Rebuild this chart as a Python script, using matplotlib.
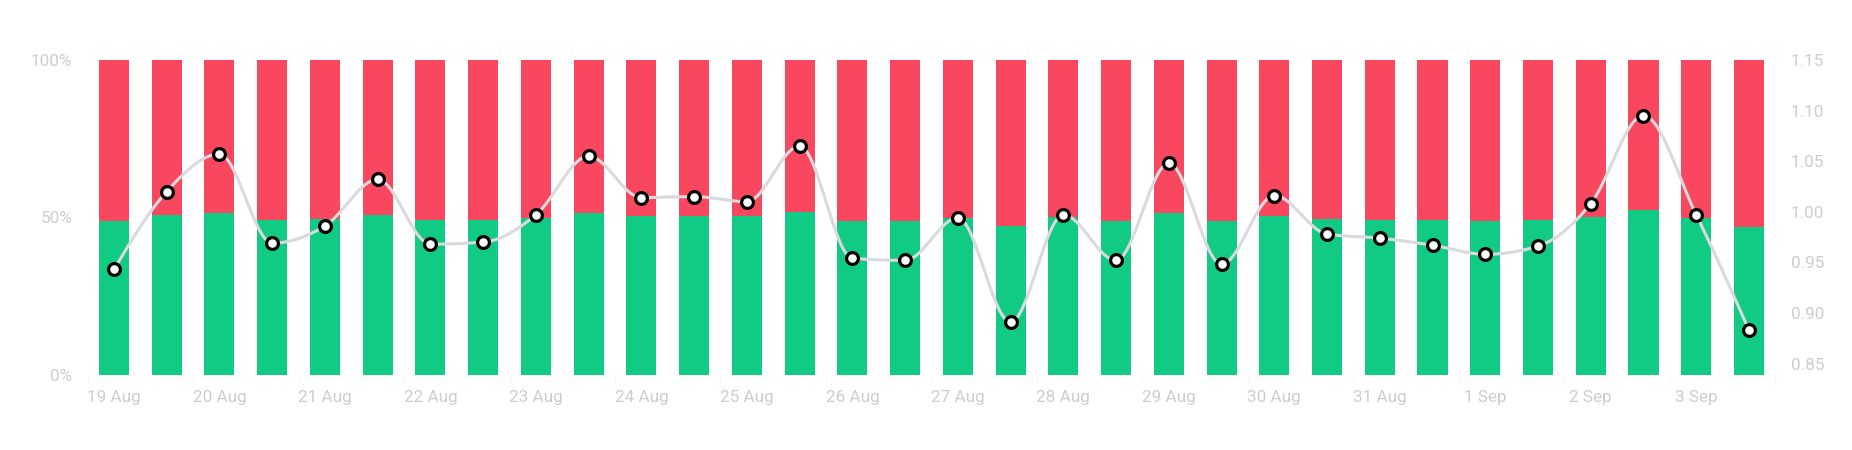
import matplotlib
matplotlib.use("Agg")
import matplotlib.pyplot as plt
from matplotlib.ticker import FixedLocator
import numpy as np

# two bars per day, 19 Aug .. 3 Sep
day_labels = ["19 Aug", "20 Aug", "21 Aug", "22 Aug", "23 Aug", "24 Aug", "25 Aug",
              "26 Aug", "27 Aug", "28 Aug", "29 Aug", "30 Aug", "31 Aug", "1 Sep",
              "2 Sep", "3 Sep"]

# long share (green, bottom) in percent, short share is the rest
long_pct = [48.7, 50.6, 51.4, 49.3, 49.6, 50.8, 49.2, 49.3, 49.9, 51.3,
            50.4, 50.4, 50.3, 51.6, 48.9, 48.8, 49.7, 47.1, 50.0, 48.8,
            51.3, 48.8, 50.5, 49.4, 49.3, 49.2, 48.9, 49.1, 50.2, 52.3,
            49.9, 46.8]

# long/short ratio on the right axis
ratio = [0.943, 1.020, 1.057, 0.969, 0.986, 1.032, 0.968, 0.970, 0.997, 1.055,
         1.014, 1.015, 1.010, 1.065, 0.954, 0.952, 0.994, 0.891, 0.997, 0.952,
         1.048, 0.948, 1.016, 0.978, 0.974, 0.967, 0.958, 0.966, 1.008, 1.095,
         0.997, 0.883]

green = '#11ca83'
red = '#f8475e'
txt = '#cdcdcd'


def monotone_x(y, n=20):
    # d3-style monotone cubic through the points, x = 0..len-1
    y = np.asarray(y, dtype=float)
    m = len(y)
    s = np.diff(y)
    t = np.zeros(m)
    for i in range(1, m - 1):
        s0, s1 = s[i - 1], s[i]
        p = (s0 + s1) / 2
        t[i] = (np.sign(s0) + np.sign(s1)) * min(abs(s0), abs(s1), 0.5 * abs(p))
    t[0] = (3 * s[0] - t[1]) / 2
    t[-1] = (3 * s[-1] - t[-2]) / 2
    xs, ys = [], []
    for i in range(m - 1):
        u = np.linspace(0, 1, n, endpoint=False)
        h00 = 2 * u**3 - 3 * u**2 + 1
        h10 = u**3 - 2 * u**2 + u
        h01 = -2 * u**3 + 3 * u**2
        h11 = u**3 - u**2
        xs.append(i + u)
        ys.append(h00 * y[i] + h10 * t[i] + h01 * y[i + 1] + h11 * t[i + 1])
    xs.append([m - 1])
    ys.append([y[-1]])
    return np.concatenate(xs), np.concatenate(ys)


plt.rcParams['font.family'] = ['Roboto', 'DejaVu Sans']

x = np.arange(len(long_pct))
long_arr = np.array(long_pct)
short_arr = 100 - long_arr

fig = plt.figure(figsize=(18.52, 4.5), dpi=100)
ax = fig.add_axes([0.0473, 0.1673, 0.9113, 0.6994])

ax.bar(x, long_arr, width=0.57, color=green, linewidth=0)
ax.bar(x, short_arr, width=0.57, bottom=long_arr, color=red, linewidth=0)
ax.set_xlim(-0.5, len(x) - 0.5)
ax.set_ylim(0, 100)
ax.set_yticks([0, 50, 100])
ax.set_yticklabels(['0%', '50%', '100%'])
ax.set_xticks(x[::2])
ax.set_xticklabels(day_labels)
ax.xaxis.set_minor_locator(FixedLocator(np.arange(-0.5, len(x), 2)))
ax.tick_params(axis='both', which='major', length=0, labelsize=12.3, labelcolor=txt)
ax.tick_params(axis='x', which='major', pad=11)
ax.tick_params(axis='y', which='major', pad=11)
ax.tick_params(axis='x', which='minor', length=4, color='#f2f2f2')
for sp in ax.spines.values():
    sp.set_visible(False)

ax2 = ax.twinx()
lx, ly = monotone_x(ratio)
ax2.plot(lx, ly, color='#d9d9de', linewidth=2.2, zorder=2)
ax2.plot(x, ratio, linestyle='none', marker='o', markersize=8.5,
         markerfacecolor='white', markeredgecolor='black', markeredgewidth=2.3, zorder=3)
ax2.set_ylim(0.839, 1.15)
ax2.set_yticks([0.85, 0.90, 0.95, 1.00, 1.05, 1.10, 1.15])
ax2.set_yticklabels([f'{v:.2f}' for v in [0.85, 0.90, 0.95, 1.00, 1.05, 1.10, 1.15]])
ax2.tick_params(axis='y', length=0, labelsize=12.3, labelcolor=txt, pad=11)
for sp in ax2.spines.values():
    sp.set_visible(False)

fig.savefig('out.png', dpi=100, facecolor='white')
